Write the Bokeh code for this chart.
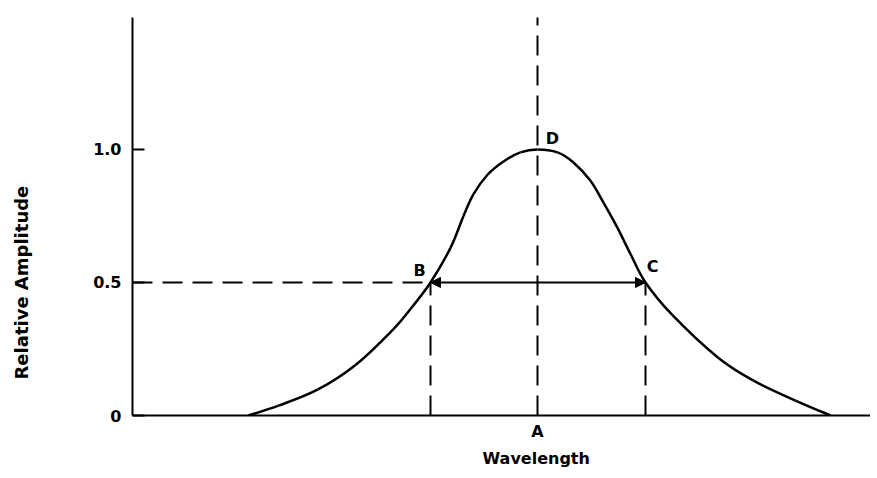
import math
from bokeh.plotting import figure
from bokeh.models import Range1d, FixedTicker, Title, Arrow, NormalHead, ColumnDataSource
from bokeh.core.properties import value
from bokeh.embed import file_html
from bokeh.resources import INLINE

# ---- data ----
wavelength = [1.16, 1.46, 1.85, 2.23, 2.61, 2.80, 2.98, 3.18, 3.31, 3.41, 3.55, 3.71,
              3.88, 4.05, 4.25, 4.41, 4.58, 4.71, 4.85, 4.98, 5.13, 5.40, 5.86, 6.21,
              6.63, 6.98]
amplitude = [0.0, 0.037, 0.097, 0.190, 0.325, 0.410, 0.5, 0.630, 0.750, 0.832, 0.905, 0.955,
             0.989, 1.0, 0.989, 0.951, 0.882, 0.800, 0.705, 0.607, 0.5, 0.377, 0.216, 0.131,
             0.056, 0.0]
A_x = 4.05          # peak wavelength
B_x = 2.98          # half-maximum, left
C_x = 5.13          # half-maximum, right
half_max = 0.5
peak = 1.0
ytick_values = [0, 0.5, 1.0]
ytick_labels = ["0", "0.5", "1.0"]
point_names = ["B", "C", "D"]

FONT = "DejaVu Sans"

p = figure(width=870, height=470, output_backend="svg", toolbar_location=None,
           x_range=Range1d(0, 7.38), y_range=Range1d(0, 1.496),
           min_border_left=132, min_border_right=0, min_border_top=17,
           min_border_bottom=52)
p.outline_line_color = None
p.xgrid.visible = False
p.ygrid.visible = False
p.background_fill_color = "white"
p.border_fill_color = "white"

# axes
p.yaxis.ticker = FixedTicker(ticks=ytick_values)
p.yaxis.major_label_overrides = {v: l for v, l in zip(ytick_values, ytick_labels)}
p.yaxis.major_tick_in = 12
p.yaxis.major_tick_out = 0
p.yaxis.minor_tick_line_color = None
p.yaxis.major_label_standoff = 11
p.yaxis.axis_line_width = 2
p.yaxis.major_tick_line_width = 2
p.yaxis.major_label_text_font = FONT
p.yaxis.major_label_text_font_style = "bold"
p.yaxis.major_label_text_font_size = "16px"
p.yaxis.major_label_text_color = "black"

p.xaxis.ticker = FixedTicker(ticks=[A_x])
p.xaxis.major_label_overrides = {A_x: "A"}
p.xaxis.major_tick_in = 0
p.xaxis.major_tick_out = 0
p.xaxis.minor_tick_line_color = None
p.xaxis.major_label_standoff = 6
p.xaxis.axis_line_width = 2
p.xaxis.major_label_text_font = FONT
p.xaxis.major_label_text_font_style = "bold"
p.xaxis.major_label_text_font_size = "16px"
p.xaxis.major_label_text_color = "black"

# smooth curve through the read points (Catmull-Rom rendered as Bezier segments)
n = len(wavelength)
def pt(i):
    i = max(0, min(n - 1, i))
    return wavelength[i], amplitude[i]
x0, y0, x1, y1, cx0, cy0, cx1, cy1 = [], [], [], [], [], [], [], []
for i in range(n - 1):
    pa, pb, pc, pd = pt(i - 1), pt(i), pt(i + 1), pt(i + 2)
    x0.append(pb[0]); y0.append(pb[1]); x1.append(pc[0]); y1.append(pc[1])
    cx0.append(pb[0] + (pc[0] - pa[0]) / 6); cy0.append(pb[1] + (pc[1] - pa[1]) / 6)
    cx1.append(pc[0] - (pd[0] - pb[0]) / 6); cy1.append(pc[1] - (pd[1] - pb[1]) / 6)
p.bezier(x0=x0, y0=y0, x1=x1, y1=y1, cx0=cx0, cy0=cy0, cx1=cx1, cy1=cy1,
         line_color="black", line_width=2.5)

# dashed construction lines (start at the axes)
dash = "20 10"
p.segment(x0=[0], y0=[half_max], x1=[B_x], y1=[half_max], line_color="black",
          line_width=2, line_dash=dash)
p.segment(x0=[B_x, C_x], y0=[0, 0], x1=[B_x, C_x], y1=[half_max, half_max],
          line_color="black", line_width=2, line_dash=dash)
p.segment(x0=[A_x], y0=[0], x1=[A_x], y1=[1.53], line_color="black",
          line_width=2, line_dash=dash)

# double arrow B <-> C
p.add_layout(Arrow(x_start=B_x, y_start=half_max, x_end=C_x, y_end=half_max,
                   line_color="black", line_width=2,
                   start=NormalHead(size=10, fill_color="black", line_color="black"),
                   end=NormalHead(size=10, fill_color="black", line_color="black")))

# point labels
src = ColumnDataSource(dict(x=[B_x, C_x, A_x], y=[half_max, half_max, peak], t=point_names,
                            dx=[-11, 7, 15], dy=[-12, -16, -11]))
p.text(x="x", y="y", text="t", x_offset="dx", y_offset="dy", source=src,
       text_font=value(FONT), text_font_style="bold", text_font_size="16px",
       text_align="center", text_baseline="middle", text_color="black")

# axis titles (a blank spacer title pushes the y title outwards)
p.add_layout(Title(text=" ", standoff=55, text_font_size="2px",
                   text_color="white"), "left")
p.add_layout(Title(text="Relative Amplitude", align="left", offset=36,
                   standoff=0, text_font=FONT,
                   text_font_style="bold", text_font_size="18px",
                   text_color="black"), "left")
p.add_layout(Title(text="Wavelength", align="left", offset=350, standoff=6,
                   text_font=FONT, text_font_style="bold",
                   text_font_size="16px", text_color="black"), "below")

open("out.html", "w").write(file_html(p, INLINE))
